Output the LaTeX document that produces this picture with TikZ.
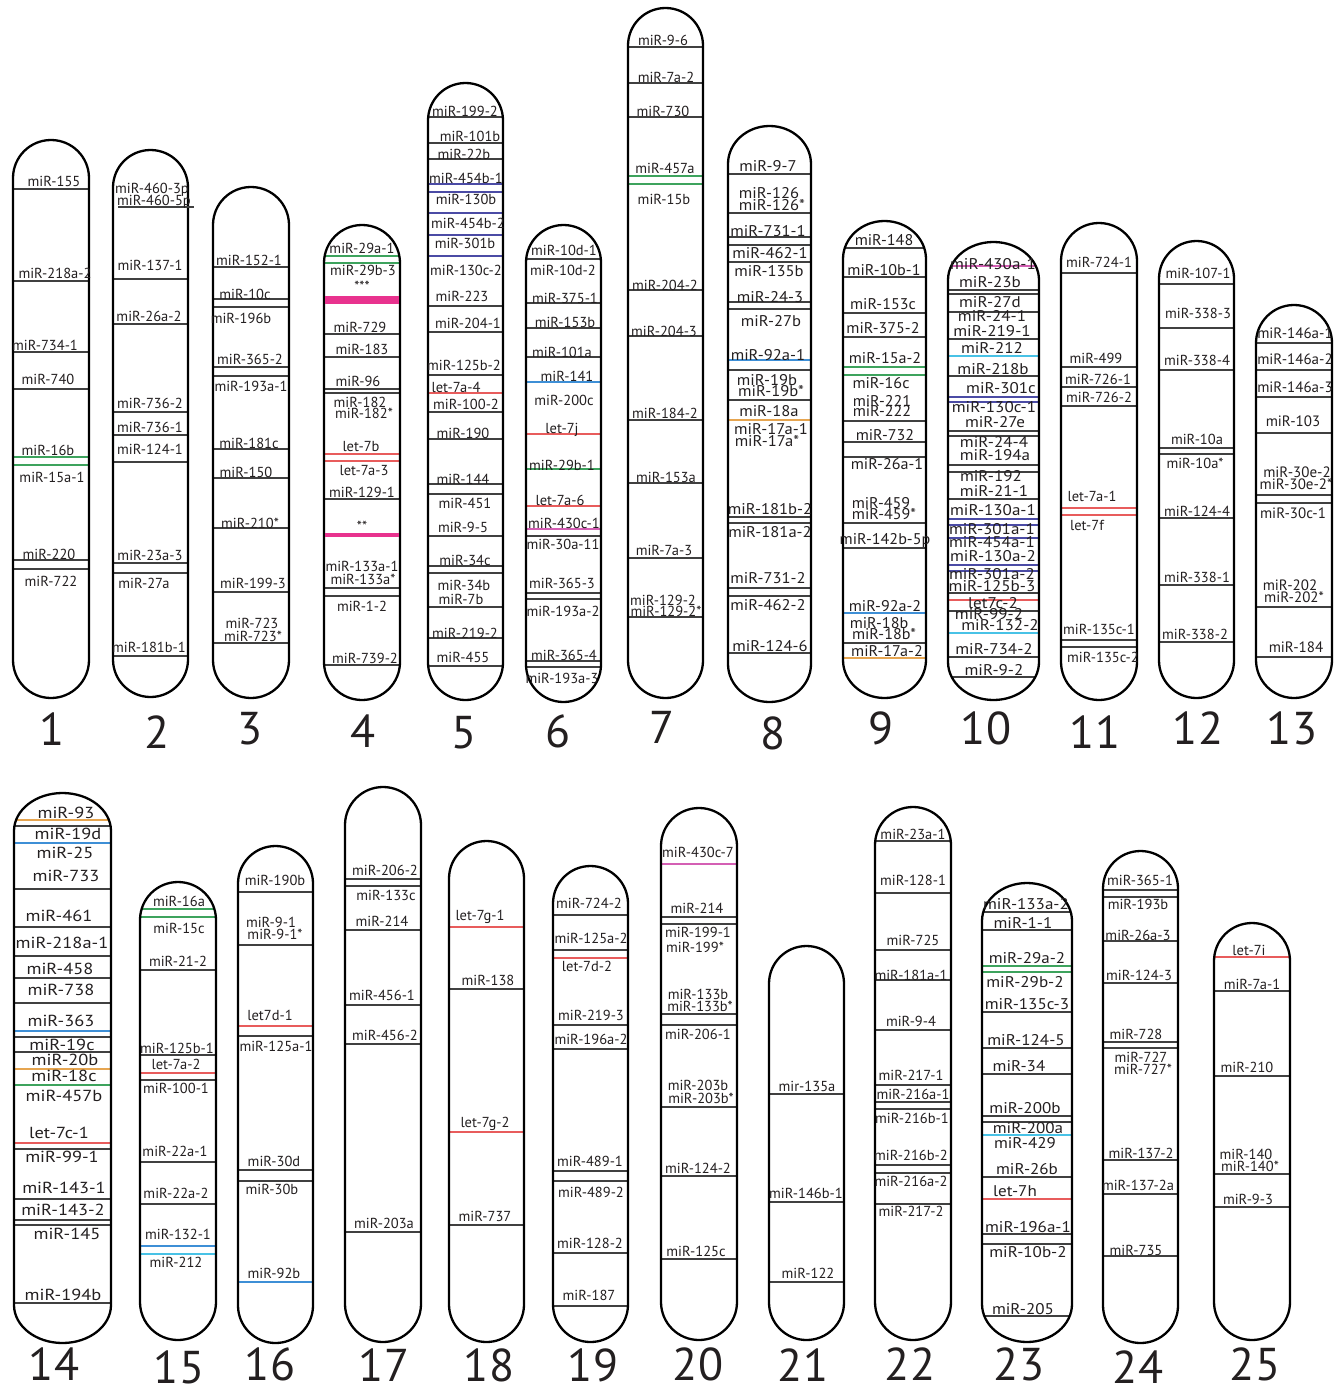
\documentclass[tikz,border=0pt]{standalone}
\usepackage{fontspec}
\usepackage{graphicx}
\setmainfont{PT Sans}
\definecolor{bk}{HTML}{404040}
\definecolor{gn}{HTML}{3DA35D}
\definecolor{rd}{HTML}{E85C5C}
\definecolor{pk}{HTML}{D45FB4}
\definecolor{db}{HTML}{4B4BA5}
\definecolor{lb}{HTML}{3E8FD6}
\definecolor{cy}{HTML}{48C2E6}
\definecolor{og}{HTML}{E6A550}
\definecolor{barpk}{HTML}{E8328E}
\definecolor{txt}{HTML}{231F20}
\newcommand\Chromo[5]{%
  \pgfmathsetmacro\rx{(#2-#1)/2}%
  \pgfmathsetmacro\ry{min(\rx,38)}%
  \begin{scope}
    \clip (#1,#3+\ry) arc[start angle=180,end angle=0,x radius=\rx pt,y radius=\ry pt] -- (#2,#4-\ry) arc[start angle=0,end angle=-180,x radius=\rx pt,y radius=\ry pt] -- cycle;
    \foreach \yy/\cc in {#5} {\draw[band,draw=\cc] (#1-5,\yy) -- (#2+5,\yy);}
  \end{scope}
  \draw[chrom] (#1,#3+\ry) arc[start angle=180,end angle=0,x radius=\rx pt,y radius=\ry pt] -- (#2,#4-\ry) arc[start angle=0,end angle=-180,x radius=\rx pt,y radius=\ry pt] -- cycle;
}
\newcommand\Labs[4]{\foreach \xx/\yy/\ttx [count=\ii] in {#4} {\node[lbl,font=\fontsize{#2}{#2}\selectfont,yshift={-0.35*#2pt}] (#1l\ii) at (\xx,\yy) {\scalebox{#3}[1]{\ttx}};}}
\begin{document}
\begin{tikzpicture}[x=1pt,y=-1pt,
  chrom/.style={draw=black,line width=2.3pt},
  band/.style={line width=1.1pt},
  lbl/.style={inner sep=0pt,anchor=base,text=txt},
  num/.style={inner sep=0pt,anchor=base,text=txt,font=\fontsize{46}{46}\selectfont,yshift=-16.1pt},
  pkbar/.style={fill=barpk}]
\fill[white] (0,0) rectangle (1336,1389);
\useasboundingbox (0,0) rectangle (1336,1389);
% ---------- 1
\Chromo{13}{89}{140}{698}{189/bk,281/bk,352/bk,389/bk,457/gn,465/gn,560/bk,569/bk}
\Labs{c1}{14.5}{1}{54/181/miR-155,55/273/miR-218a-2,45/345/miR-734-1,48/379/miR-740,48/450/miR-16b,52/477/miR-15a-1,49/554/miR-220,51/581/miR-722}
\node[num] (n1) at (52,729) {1};
% ---------- 2
\Chromo{113}{188}{150}{697}{279/bk,324/bk,412/bk,435/bk,462/bk,563/bk,573/bk,656/bk}
\draw[band,draw=bk] (118,207) -- (194,207);
\Labs{c2}{14.5}{1}{152/188/miR-460-3p,154/200/miR-460-5p,150/265/miR-137-1,149/316/miR-26a-2,150/403/miR-736-2,150/427/miR-736-1,150/449/miR-124-1,150/555/miR-23a-3,144/583/miR-27a,149/647/miR-181b-1}
\node[num] (n2) at (157,732) {2};
% ---------- 3
\Chromo{213}{289}{187}{698}{267/bk,299/bk,307/bk,367/bk,376/bk,449/bk,478/bk,528/bk,592/bk,643/bk}
\Labs{c3}{14.5}{1}{249/260/miR-152-1,245/294/miR-10c,241/318/miR-196b,250/359/miR-365-2,251/386/miR-193a-1,249/443/miR-181c,246/472/miR-150,250/523/miR-210*,253/583/miR-199-3,252/623/miR-723,253/636/miR-723*}
\node[num] (n3) at (250,728) {3};
% ---------- 4
\Chromo{324}{400}{225}{700}{256/gn,263/gn,334/bk,357/bk,389/bk,393/bk,454/rd,461/rd,499/bk,588/bk,596/bk,665/bk}
\fill[pkbar] (325,296) rectangle (399,304);
\fill[pkbar] (325,532.5) rectangle (399,536.5);
\Labs{c4}{14.5}{1}{362/248/miR-29a-1,363/270/miR-29b-3,362/286/***,360/327/miR-729,362/349/miR-183,358/381/miR-96,360/402/miR-182,364/413/miR-182*,361/446/let-7b,364/470/let-7a-3,362/492/miR-129-1,362/526/**,362/566/miR-133a-1,363/579/miR-133a*,362/606/miR-1-2,365/658/miR-739-2}
\node[num] (n4) at (363,731) {4};
% ---------- 5
\Chromo{428}{503}{83}{700}{117/bk,143/bk,159/bk,184/db,192/db,213/db,235/db,256/db,306/bk,332/bk,375/bk,393/rd,412/bk,439/bk,484/bk,494/bk,536/bk,566/bk,573/bk,607/bk,638/bk,666/bk}
\Labs{c5}{14.5}{1}{465/111/miR-199-2,470/136/miR-101b,464/154/miR-22b,466/178/miR-454b-1,466/199/miR-130b,468/223/miR-454b-2,465/243/miR-301b,466/270/miR-130c-2,462/296/miR-223,468/323/miR-204-1,464/365/miR-125b-2,456/387/let-7a-4,466/404/miR-100-2,463/433/miR-190,463/479/miR-144,465/503/miR-451,463/527/miR-9-5,465/560/miR-34c,464/585/miR-34b,461/599/miR-7b,465/633/miR-219-2,463/657/miR-455}
\node[num] (n5) at (464,732) {5};
% ---------- 6
\Chromo{526}{601}{225}{702}{259/bk,303/bk,328/bk,357/bk,382/lb,434/rd,469/gn,506/rd,529/pk,536/bk,593/bk,599/bk,661/bk,667/bk}
\Labs{c6}{14.5}{1}{564/250/miR-10d-1,563/270/miR-10d-2,565/298/miR-375-1,565/322/miR-153b,562/352/miR-101a,567/376/miR-141,564/400/miR-200c,562/428/let-7j,562/465/miR-29b-1,560/500/let-7a-6,564/523/miR-430c-1,563/544/miR-30a-11,562/583/miR-365-3,563/611/miR-193a-2,564/655/miR-365-4,562/678/miR-193a-3}
\node[num] (n6) at (558,731) {6};
% ---------- 7
\Chromo{628}{703}{8}{698}{47/bk,83/bk,117/bk,176/gn,184/gn,290/bk,336/bk,420/bk,483/bk,558/bk,617/bk}
\Labs{c7}{14.5}{1}{663/40/miR-9-6,666/77/miR-7a-2,663/111/miR-730,665/168/miR-457a,664/199/miR-15b,665/285/miR-204-2,664/331/miR-204-3,665/413/miR-184-2,666/477/miR-153a,664/550/miR-7a-3,663/600/miR-129-2,666/611/miR-129-2*}
\node[num] (n7) at (662,727) {7};
% ---------- 8
\Chromo{728}{811}{126}{702}{174/bk,213/bk,237/bk,245/bk,262/bk,302/bk,309/bk,360/lb,370/bk,400/bk,420/og,517/bk,523/bk,588/bk,596/bk,653/bk}
\Labs{c8}{15.5}{1.07}{768/166/miR-9-7,769/193/miR-126,772/205/miR-126*,768/231/miR-731-1,770/253/miR-462-1,769/271/miR-135b,770/297/miR-24-3,771/321/miR-27b,768/355/miR-92a-1,767/380/miR-19b,771/391/miR-19b*,769/411/miR-18a,771/429/miR-17a-1,767/441/miR-17a*,770/509/miR-181b-2,770/532/miR-181a-2,768/578/miR-731-2,768/605/miR-462-2,770/646/miR-124-6}
\node[num] (n8) at (773,733) {8};
% ---------- 9
\Chromo{843}{926}{221}{698}{248/bk,277/bk,313/bk,337/bk,367/gn,375/gn,421/bk,442/bk,457/bk,523/bk,548/bk,613/lb,643/bk,658/og}
\Labs{c9}{15.5}{1.04}{884/240/miR-148,884/270/miR-10b-1,883/304/miR-153c,883/328/miR-375-2,885/358/miR-15a-2,881/383/miR-16c,882/401/miR-221,882/411/miR-222,885/435/miR-732,887/464/miR-26a-1,881/503/miR-459,884/514/miR-459*,885/539/miR-142b-5p,885/606/miR-92a-2,879/623/miR-18b,884/634/miR-18b*,887/651/miR-17a-2}
\node[num] (n9) at (881,728) {9};
% ---------- 10
\Chromo{948}{1039}{242}{700}{266/pk,290/bk,294/bk,312/bk,339/bk,356/cy,376/bk,397/db,402/db,431/bk,436/bk,465/bk,472/bk,499/bk,519/db,525/db,538/db,565/db,571/db,593/bk,600/rd,611/bk,633/cy,657/bk,677/bk}
\Labs{c10}{15.5}{1.1}{993/264/miR-430a-1,990/282/miR-23b,990/302/miR-27d,992/316/miR-24-1,992/331/miR-219-1,992/348/miR-212,993/369/miR-218b,1001/388/miR-301c,994/407/miR-130c-1,995/422/miR-27e,994/442/miR-24-4,995/455/miR-194a,991/476/miR-192,994/491/miR-21-1,993/510/miR-130a-1,992/529/miR-301a-1,992/542/miR-454a-1,993/556/miR-130a-2,992/574/miR-301a-2,992/586/miR-125b-3,993/603/let7c-2,989/614/miR-99-2,1000/625/miR-132-2,994/649/miR-734-2,994/670/miR-9-2}
\node[num] (n10) at (986,728) {10};
% ---------- 11
\Chromo{1061}{1137}{223}{700}{273/bk,367/bk,387/bk,406/bk,508/rd,515/rd,640/bk,647/bk}
\Labs{c11}{14.5}{1}{1099/262/miR-724-1,1096/358/miR-499,1098/379/miR-726-1,1099/397/miR-726-2,1092/496/let-7a-1,1087/525/let-7f,1099/629/miR-135c-1,1103/657/miR-135c-2}
\node[num] (n11) at (1095,732) {11};
% ---------- 12
\Chromo{1159}{1234}{241}{698}{284/bk,328/bk,370/bk,448/bk,454/bk,518/bk,585/bk,642/bk}
\Labs{c12}{14.5}{1}{1198/273/miR-107-1,1198/313/miR-338-3,1197/360/miR-338-4,1197/439/miR-10a,1195/463/miR-10a*,1197/511/miR-124-4,1197/577/miR-338-1,1195/634/miR-338-2}
\node[num] (n12) at (1198,728) {12};
% ---------- 13
\Chromo{1256}{1332}{305}{698}{343/bk,370/bk,397/bk,433/bk,495/bk,503/bk,607/bk,657/bk}
\Labs{c13}{15}{1}{1295/333/miR-146a-1,1295/359/miR-146a-2,1295/387/miR-146a-3,1293/421/miR-103,1297/472/miR-30e-2,1296/484/miR-30e-2*,1293/513/miR-30c-1,1290/585/miR-202,1294/597/miR-202*,1296/647/miR-184}
\node[num] (n13) at (1292,728) {13};
% ---------- 14
\Chromo{14}{111}{793}{1343}{820/og,826/bk,843/lb,889/bk,927/bk,956/bk,978/bk,1003/bk,1031/lb,1037/bk,1052/bk,1069/og,1085/gn,1143/rd,1149/bk,1199/bk,1220/bk,1225/bk,1303/bk}
\Labs{c14}{16}{1.15}{66/813/miR-93,68/834/miR-19d,65/853/miR-25,66/876/miR-733,59/916/miR-461,62/943/miR-218a-1,60/969/miR-458,61/990/miR-738,61/1021/miR-363,62/1045/miR-19c,65/1060/miR-20b,64/1076/miR-18c,64/1096/miR-457b,59/1133/let-7c-1,62/1157/miR-99-1,64/1188/miR-143-1,63/1210/miR-143-2,67/1234/miR-145,63/1295/miR-194b}
\node[num] (n14) at (54,1364) {14};
% ---------- 15
\Chromo{140}{216}{882}{1340}{909/gn,917/gn,970/bk,1055/bk,1073/rd,1080/bk,1162/bk,1204/bk,1246/lb,1254/cy}
\Labs{c15}{14.5}{1}{179/901/miR-16a,179/928/miR-15c,178/961/miR-21-2,177/1048/miR-125b-1,176/1064/let-7a-2,176/1088/miR-100-1,175/1151/miR-22a-1,176/1193/miR-22a-2,178/1234/miR-132-1,176/1262/miR-212}
\node[num] (n15) at (179,1367) {15};
% ---------- 16
\Chromo{238}{313}{846}{1343}{892/bk,945/bk,1026/rd,1036/bk,1170/bk,1181/bk,1282/lb}
\Labs{c16}{14.5}{1}{275/880/miR-190b,271/922/miR-9-1,275/934/miR-9-1*,270/1015/let7d-1,276/1046/miR-125a-1,274/1161/miR-30d,272/1189/miR-30b,274/1273/miR-92b}
\node[num] (n16) at (270,1364) {16};
% ---------- 17
\Chromo{345}{421}{787}{1342}{879/bk,886/bk,930/bk,1005/bk,1044/bk,1232/bk}
\Labs{c17}{14.5}{1}{385/870/miR-206-2,386/895/miR-133c,382/921/miR-214,382/995/miR-456-1,385/1035/miR-456-2,384/1223/miR-203a}
\node[num] (n17) at (384,1365) {17};
% ---------- 18
\Chromo{449}{524}{841}{1342}{927/rd,989/bk,1132/rd,1225/bk}
\Labs{c18}{14.5}{1}{480/915/let-7g-1,488/980/miR-138,485/1122/let-7g-2,485/1216/miR-737}
\node[num] (n18) at (489,1365) {18};
% ---------- 19
\Chromo{553}{628}{866}{1342}{915/bk,950/bk,958/rd,1025/bk,1049/bk,1171/bk,1181/bk,1253/bk,1306/bk}
\Labs{c19}{14.5}{1}{589/903/miR-724-2,591/938/miR-125a-2,587/966/let-7d-2,591/1015/miR-219-3,591/1039/miR-196a-2,590/1161/miR-489-1,591/1192/miR-489-2,590/1243/miR-128-2,589/1295/miR-187}
\node[num] (n19) at (593,1365) {19};
% ---------- 20
\Chromo{661}{737}{808}{1340}{864/pk,917/bk,924/bk,1014/bk,1025/bk,1107/bk,1176/bk,1259/bk}
\Labs{c20}{14.5}{1}{698/852/miR-430c-7,697/908/miR-214,698/932/miR-199-1,695/947/miR-199*,698/994/miR-133b,700/1006/miR-133b*,698/1034/miR-206-1,698/1085/miR-203b,701/1098/miR-203b*,698/1168/miR-124-2,696/1251/miR-125c}
\node[num] (n20) at (698,1364) {20};
% ---------- 21
\Chromo{769}{844}{946}{1340}{1094/bk,1202/bk,1282/bk}
\Labs{c21}{14.5}{1}{807/1086/mir-135a,806/1193/miR-146b-1,808/1273/miR-122}
\node[num] (n21) at (803,1365) {21};
% ---------- 22
\Chromo{875}{951}{807}{1340}{841/bk,893/bk,950/bk,980/bk,1030/bk,1085/bk,1102/bk,1109/bk,1165/bk,1173/bk,1204/bk}
\Labs{c22}{14.5}{1}{913/834/miR-23a-1,913/880/miR-128-1,913/940/miR-725,911/975/miR-181a-1,911/1021/miR-9-4,911/1075/miR-217-1,913/1094/miR-216a-1,912/1118/miR-216b-1,911/1155/miR-216b-2,911/1181/miR-216a-2,911/1211/miR-217-2}
\node[num] (n22) at (910,1364) {22};
% ---------- 23
\Chromo{982}{1072}{883}{1342}{912/bk,930/bk,966/gn,972/gn,1012/bk,1048/bk,1074/bk,1116/bk,1122/bk,1135/cy,1177/bk,1199/rd,1234/bk,1244/bk,1316/bk}
\Labs{c23}{15.5}{1.1}{1026/904/miR-133a-2,1023/923/miR-1-1,1027/958/miR-29a-2,1025/982/miR-29b-2,1027/1004/miR-135c-3,1026/1040/miR-124-5,1019/1066/miR-34,1025/1108/miR-200b,1028/1128/miR-200a,1025/1143/miR-429,1027/1169/miR-26b,1015/1191/let-7h,1028/1227/miR-196a-1,1028/1252/miR-10b-2,1023/1309/miR-205}
\node[num] (n23) at (1019,1364) {23};
% ---------- 24
\Chromo{1103}{1178}{851}{1343}{890/bk,897/bk,941/bk,983/bk,1042/bk,1048/bk,1160/bk,1194/bk,1256/bk}
\Labs{c24}{14.5}{1}{1140/880/miR-365-1,1138/904/miR-193b,1138/935/miR-26a-3,1139/975/miR-124-3,1136/1034/miR-728,1141/1057/miR-727,1143/1069/miR-727*,1141/1153/miR-137-2,1138/1185/miR-137-2a,1136/1250/miR-735}
\node[num] (n24) at (1138,1367) {24};
% ---------- 25
\Chromo{1214}{1290}{923}{1340}{957/rd,991/bk,1076/bk,1174/bk,1207/bk}
\Labs{c25}{14.5}{1}{1249/950/let-7i,1252/984/miR-7a-1,1247/1067/miR-210,1246/1154/miR-140,1250/1166/miR-140*,1248/1199/miR-9-3}
\node[num] (n25) at (1255,1364) {25};
\end{tikzpicture}
\end{document}
